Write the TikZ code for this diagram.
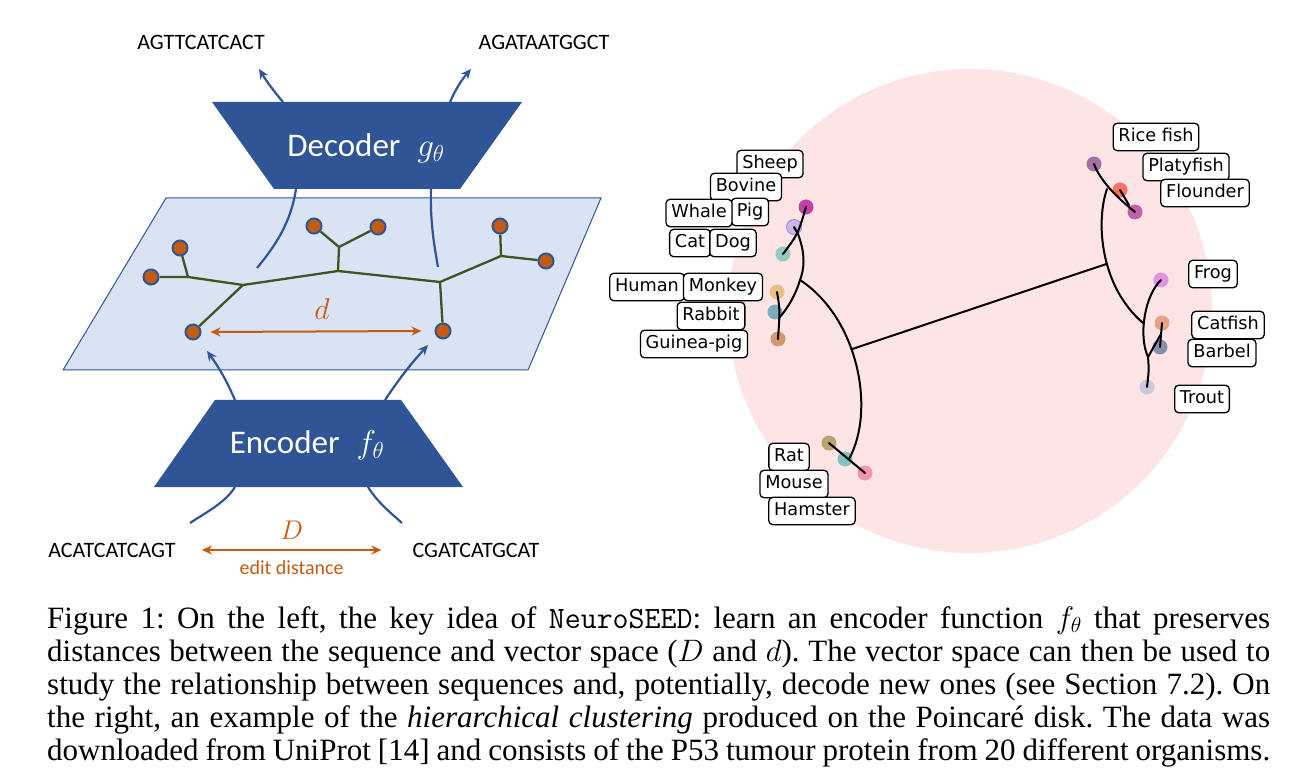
\RequirePackage{fix-cm}
\documentclass[tikz,border=0pt]{standalone}
\usepackage{fontspec}
\setmainfont{Liberation Serif}
\newfontfamily\calfont{Carlito}
\newfontfamily\djfont{DejaVu Sans}
\usetikzlibrary{shapes,arrows.meta,positioning}

\definecolor{navy}{HTML}{2F5597}
\definecolor{planefill}{HTML}{DAE3F3}
\definecolor{rust}{HTML}{C55A11}
\definecolor{treegreen}{HTML}{385723}
\definecolor{diskpink}{HTML}{FDE5E6}

\tikzset{
  seq/.style={font=\calfont\fontsize{22}{24}\selectfont, inner sep=0pt},
  coder/.style={font=\calfont\fontsize{33}{36}\selectfont, text=white, inner sep=0pt},
  leaf/.style={circle, fill=rust, draw=navy, line width=2pt, minimum size=15pt, inner sep=0pt},
  branch/.style={treegreen, line width=2.3pt, line join=round},
  flow/.style={navy, line width=2.2pt, -{Stealth[length=10pt,width=9pt]}},
  wire/.style={navy, line width=2.2pt},
  gap/.style={rust, line width=2pt, {Stealth[length=10pt,width=9pt]}-{Stealth[length=10pt,width=9pt]}},
  taxon/.style={draw, line width=1.3pt, rounded corners=4pt, fill=white,
    font=\djfont\fontsize{17.7}{19}\selectfont, inner xsep=5.3pt, inner ysep=5pt,
    text height=13.2pt, text depth=4.2pt},
  emb/.style={circle, minimum size=15pt, inner sep=0pt, fill opacity=0.8},
  hedge/.style={black, line width=2pt, line cap=round},
}

\begin{document}
\begin{tikzpicture}[x=1pt,y=-1pt]
\useasboundingbox (0,0) rectangle (1304,783);

% vector space
\filldraw[fill=planefill, draw=navy, line width=1pt] (166,198) -- (601,198) -- (528,370) -- (63,370) -- cycle;

% tree in the vector space
\coordinate (j1) at (188,277);
\coordinate (j2) at (243,285);
\coordinate (j3) at (338,271);
\coordinate (j4) at (339,247);
\coordinate (j5) at (440,282);
\coordinate (j6) at (501,256);
\node[leaf] (l1) at (180,248) {};
\node[leaf] (l2) at (151,277) {};
\node[leaf] (l3) at (314,226) {};
\node[leaf] (l4) at (378,227) {};
\node[leaf] (l5) at (500,226) {};
\node[leaf] (l6) at (546,261) {};
\node[leaf] (l7) at (193,332) {};
\node[leaf] (l8) at (443,331) {};
\draw[branch] (l2) -- (j1) -- (j2) -- (j3) -- (j5) -- (j6) -- (l6);
\draw[branch] (l1) -- (j1);
\draw[branch] (j2) -- (l7);
\draw[branch] (j3) -- (j4) -- (l3);
\draw[branch] (j4) -- (l4);
\draw[branch] (j5) -- (l8);
\draw[branch] (j6) -- (l5);

% distance in the vector space
\draw[gap] ([xshift=9pt]l7.east) -- ([xshift=-13pt]l8.west)
  node[midway, above=8pt, xshift=6pt, text=rust, font=\fontsize{30}{32}\selectfont] (dlab) {$d$};

% decoder
\fill[navy] (212,102) -- (522,102) -- (460,189) -- (274,189) -- cycle;
\node[coder] (dec) at (366,148) {Decoder\hspace{17pt}$g_\theta$};
\coordinate (decT1) at (283,102);
\coordinate (decT2) at (450,102);
\coordinate (decB1) at (296,189);
\coordinate (decB2) at (431,189);
\node[seq] (out1) at (201,42) {AGTTCATCACT};
\node[seq] (out2) at (544,42) {AGATAATGGCT};
\coordinate (out1tip) at (259,69);
\coordinate (out2tip) at (471,69);
\draw[flow] (decT1) to[bend left=4] (out1tip);
\draw[flow] (decT2) to[bend left=8] (out2tip);
\coordinate (pick1) at (257,268);
\coordinate (pick2) at (438,267);
\draw[wire] (decB1) .. controls (291,222) and (276,245) .. (pick1);
\draw[wire] (decB2) .. controls (430,220) and (434,245) .. (pick2);

% encoder
\fill[navy] (215,400) -- (401,400) -- (463,487) -- (154,487) -- cycle;
\node[coder] (enc) at (307,445) {Encoder\hspace{17pt}$f_\theta$};
\coordinate (encT1) at (235,400);
\coordinate (encT2) at (385,400);
\coordinate (encB1) at (235,487);
\coordinate (encB2) at (368,487);
\coordinate (in1tip) at (207,351);
\coordinate (in2tip) at (428,345);
\draw[flow] (encT1) to[bend right=6] (in1tip);
\draw[flow] (encT2) to[bend left=4] (in2tip);
\coordinate (feed1) at (190,523);
\coordinate (feed2) at (402,523);
\draw[wire] (encB1) .. controls (225,503) and (205,513) .. (feed1);
\draw[wire] (encB2) .. controls (378,503) and (392,514) .. (feed2);

% sequences and edit distance
\node[seq] (seqA) at (112,550) {ACATCATCAGT};
\node[seq] (seqB) at (476,550) {CGATCATGCAT};
\draw[gap] ([xshift=26pt]seqA.east) -- ([xshift=-31pt]seqB.west)
  node[midway, above=6pt, text=rust, font=\fontsize{27}{29}\selectfont] (Dlab) {$D$}
  node[midway, below=6pt, text=rust, font=\calfont\fontsize{20}{22}\selectfont] (edlab) {edit distance};

% Poincare disk
\fill[diskpink] (970,311) circle (242);

% embedded points
\node[emb, fill={rgb,255:red,181;green,23;blue,158}] (pSheep) at (806,207) {};
\node[emb, fill={rgb,255:red,201;green,168;blue,230}, draw={rgb,255:red,150;green,150;blue,230}, line width=1pt] (pPig) at (794,227) {};
\node[emb, fill={rgb,255:red,124;green,196;blue,184}] (pDog) at (783,254) {};
\node[emb, fill={rgb,255:red,226;green,184;blue,110}] (pMonkey) at (777,292) {};
\node[emb, fill={rgb,255:red,90;green,160;blue,174}] (pRabbit) at (775,312) {};
\node[emb, fill={rgb,255:red,201;green,136;blue,82}] (pGuinea) at (778,339) {};
\node[emb, fill={rgb,255:red,168;green,149;blue,82}] (pRat) at (829,443) {};
\node[emb, fill={rgb,255:red,102;green,184;blue,184}] (pMouse) at (845,459) {};
\node[emb, fill={rgb,255:red,242;green,126;blue,166}] (pHamster) at (865,473) {};
\node[emb, fill={rgb,255:red,142;green,84;blue,148}] (pRice) at (1094,164) {};
\node[emb, fill={rgb,255:red,238;green,90;blue,64}] (pPlaty) at (1120,190) {};
\node[emb, fill={rgb,255:red,176;green,64;blue,156}] (pFlounder) at (1135,212) {};
\node[emb, fill={rgb,255:red,218;green,128;blue,220}] (pFrog) at (1161,280) {};
\node[emb, fill={rgb,255:red,229;green,144;blue,112}] (pCatfish) at (1162,323) {};
\node[emb, fill={rgb,255:red,106;green,123;blue,156}] (pBarbel) at (1160,347) {};
\node[emb, fill={rgb,255:red,186;green,195;blue,219}] (pTrout) at (1147,387) {};

% hierarchy
\coordinate (kA) at (798,234);
\coordinate (kC) at (800,280);
\coordinate (kD) at (779,318);
\coordinate (kF) at (849,459);
\coordinate (kH) at (1107,189);
\coordinate (kI) at (1143,323);
\coordinate (kJ) at (1148,357);
\coordinate (kK) at (1161,334);
\draw[hedge] (pSheep.center) .. controls (kA) .. (pDog.center);
\draw[hedge] (pPig.center) -- (kA);
\draw[hedge] (kA) .. controls (806,255) and (804,270) .. (kC) .. controls (796,294) and (788,308) .. (kD);
\draw[hedge] (pMonkey.center) .. controls (780,310) .. (pGuinea.center);
\draw[hedge] (kC) .. controls (858,318) and (876,410) .. (kF) coordinate[pos=0.42] (kE);
\draw[hedge] (pRat.center) -- (pHamster.center);
\draw[hedge] (pRice.center) .. controls (1100,180) and (1115,196) .. (pFlounder.center);
\draw[hedge] (pPlaty.center) -- (1129,205);
\draw[hedge] (kH) .. controls (1096,220) and (1099,285) .. (kI) coordinate[pos=0.57] (kG);
\draw[hedge] (kE) -- (kG);
\draw[hedge] (pFrog.center) .. controls (1145,295) and (1138,335) .. (kJ) .. controls (1149,370) .. (pTrout.center);
\draw[hedge] (pCatfish.center) -- (pBarbel.center);
\draw[hedge] (kJ) -- (kK);

% organism labels
\node[taxon] (tSheep) at (770,164) {Sheep};
\node[taxon] (tBovine) at (746,187) {Bovine};
\node[taxon] (tPig) at (750,212) {Pig};
\node[taxon] (tWhale) at (699,213) {Whale};
\node[taxon] (tCat) at (690,243) {Cat};
\node[taxon] (tDog) at (733,243) {Dog};
\node[taxon] (tHuman) at (647,287) {Human};
\node[taxon] (tMonkey) at (723,287) {Monkey};
\node[taxon] (tRabbit) at (711,316) {Rabbit};
\node[taxon] (tGuinea) at (694,344) {Guinea-pig};
\node[taxon] (tRat) at (789,457) {Rat};
\node[taxon] (tMouse) at (794,484) {Mouse};
\node[taxon] (tHamster) at (812,511) {Hamster};
\node[taxon] (tRice) at (1156,137) {Rice fish};
\node[taxon] (tPlaty) at (1186,167) {Platyfish};
\node[taxon] (tFlounder) at (1205,193) {Flounder};
\node[taxon] (tFrog) at (1213,274) {Frog};
\node[taxon] (tCatfish) at (1228,325) {Catfish};
\node[taxon] (tBarbel) at (1222,353) {Barbel};
\node[taxon] (tTrout) at (1202,399) {Trout};

% caption
\node[anchor=north west, inner sep=0pt, text width=1223pt, align=justify,
  font={\fontsize{31}{33}\selectfont\frenchspacing\spaceskip=0.25em plus 0.3em minus 0.16em}] (caption) at (47,606)
  {\parfillskip=0pt Figure 1: On the left, the key idea of \texttt{NeuroSEED}: learn an encoder function $f_\theta$ that preserves\linebreak
   distances between the sequence and vector space ($D$ and $d$). The vector space can then be used to\linebreak
   study the relationship between sequences and, potentially, decode new ones (see Section 7.2). On\linebreak
   the right, an example of the \emph{hierarchical clustering} produced on the Poincaré disk. The data was\linebreak
   downloaded from UniProt [14] and consists of the P53 tumour protein from 20 different organisms.};
\end{tikzpicture}
\end{document}
